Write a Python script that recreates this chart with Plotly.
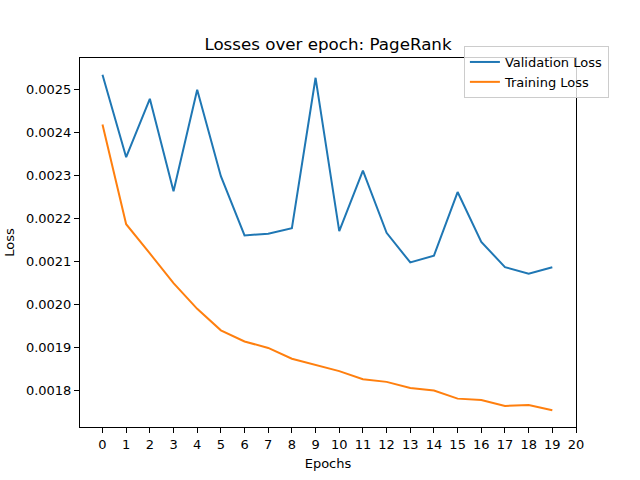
import plotly.graph_objects as go

epochs = list(range(20))
validation_loss = [
    0.002535, 0.002343, 0.002479, 0.002264, 0.002500,
    0.002299, 0.002161, 0.002165, 0.002178, 0.002528,
    0.002171, 0.002312, 0.002167, 0.002098, 0.002114,
    0.002262, 0.002146, 0.002087, 0.002072, 0.002087,
]
training_loss = [
    0.002419, 0.002187, 0.002119, 0.002050, 0.001990,
    0.001940, 0.001914, 0.001899, 0.001874, 0.001859,
    0.001845, 0.001826, 0.001820, 0.001806, 0.001800,
    0.001781, 0.001778, 0.001764, 0.001766, 0.001754,
]
x_ticks = list(range(21))
y_ticks = [0.0018, 0.0019, 0.0020, 0.0021, 0.0022, 0.0023, 0.0024, 0.0025]

font = "DejaVu Sans"

fig = go.Figure()
fig.add_trace(go.Scatter(x=epochs, y=validation_loss, mode="lines",
                         name="Validation Loss",
                         line=dict(color="#1f77b4", width=2)))
fig.add_trace(go.Scatter(x=epochs, y=training_loss, mode="lines",
                         name="Training Loss",
                         line=dict(color="#ff7f0e", width=2)))

# matplotlib-like 5% margins around the data
lo = min(training_loss + validation_loss)
hi = max(training_loss + validation_loss)
pad = (hi - lo) * 0.05

axis_common = dict(
    showline=True, linecolor="black", linewidth=1, mirror=True,
    ticks="outside", ticklen=5, tickcolor="black", tickwidth=1,
    showgrid=False, zeroline=False,
    tickfont=dict(family=font, size=13, color="black"),
)

fig.update_layout(
    width=640, height=480,
    margin=dict(l=80, r=64, t=58, b=53, autoexpand=False),
    paper_bgcolor="white", plot_bgcolor="white",
    font=dict(family=font, size=13, color="black"),
    title=dict(text="Losses over epoch: PageRank", x=0.5, xanchor="center",
               xref="paper", y=0.909, yanchor="middle",
               font=dict(family=font, size=16.7, color="black")),
    xaxis=dict(range=[-0.95, 20], tickmode="array", tickvals=x_ticks,
               title=dict(text="Epochs", standoff=8,
                          font=dict(family=font, size=13)),
               **axis_common),
    yaxis=dict(range=[lo - pad, hi + pad], tickmode="array", tickvals=y_ticks,
               tickformat=".4f",
               title=dict(text="Loss", standoff=8,
                          font=dict(family=font, size=13)),
               **axis_common),
    legend=dict(x=0.774, y=1.0325, xanchor="left", yanchor="top",
                bgcolor="rgba(255,255,255,0.8)", bordercolor="#cccccc",
                borderwidth=1, font=dict(family=font, size=13),
                tracegroupgap=0),
    showlegend=True,
)

# drop the browser's default body margin so the figure sits at the page corner
fig.write_html("out.html", config={"displayModeBar": False},
               post_script="document.body.style.margin='0px';")
